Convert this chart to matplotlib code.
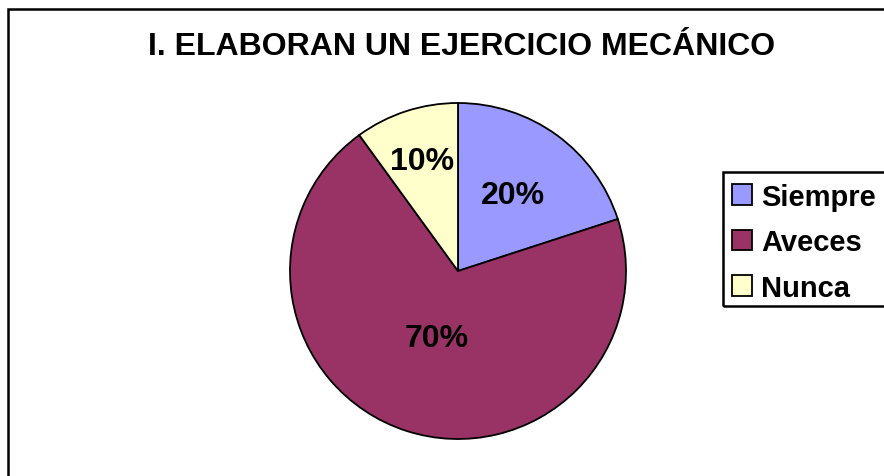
import numpy as np
import matplotlib.pyplot as plt
from matplotlib.patches import Rectangle

# data
categories = ["Siempre", "Aveces", "Nunca"]
values = [20, 70, 10]
colors = ["#9999FF", "#993366", "#FFFFCC"]
title = "I. ELABORAN UN EJERCICIO MECÁNICO"

plt.rcParams['font.family'] = ['Liberation Sans', 'DejaVu Sans']

W, H = 884, 477
fig = plt.figure(figsize=(W / 100, H / 100), dpi=100)

# outer chart frame (right and bottom edges fall outside the image)
fig.patches.append(Rectangle((8 / W, -0.1), 2.0, (H - 10) / H + 0.1,
                             transform=fig.transFigure, fill=False,
                             edgecolor="black", linewidth=1.8))

fig.text(462 / W, 1 - 47 / H, title, ha="center", va="center",
         fontsize=23, fontweight="bold")

# pie: centre (458, 272) px, radius 168 px
cx, cy, r = 458, 272, 168
ax = fig.add_axes([(cx - r) / W, (H - cy - r) / H, 2 * r / W, 2 * r / H])
wedges, _ = ax.pie(values, colors=colors, startangle=90, counterclock=False,
                   radius=1.0, wedgeprops=dict(edgecolor="black", linewidth=1.3))
ax.set_xlim(-1, 1)
ax.set_ylim(-1, 1)

label_dist = [0.56, 0.42, 0.69]
for w, v, d in zip(wedges, values, label_dist):
    ang = np.deg2rad((w.theta1 + w.theta2) / 2)
    ax.text(d * np.cos(ang), d * np.sin(ang), f"{v}%", ha="center",
            va="center", fontsize=23, fontweight="bold")

# legend box runs past the right edge of the image, so draw it by hand
fig.patches.append(Rectangle((723 / W, 1 - 307 / H), 0.3, 134 / H,
                             transform=fig.transFigure, fill=False,
                             edgecolor="black", linewidth=1.8))
leg = fig.legend(wedges, categories, loc="upper left",
                 bbox_to_anchor=(723 / W, 1 - 175 / H),
                 frameon=False,
                 prop=dict(size=21, weight="bold"),
                 handlelength=0.7, handleheight=0.7, handletextpad=0.3,
                 labelspacing=0.6, borderpad=0.3, borderaxespad=0)

fig.savefig("out.png", dpi=100)
